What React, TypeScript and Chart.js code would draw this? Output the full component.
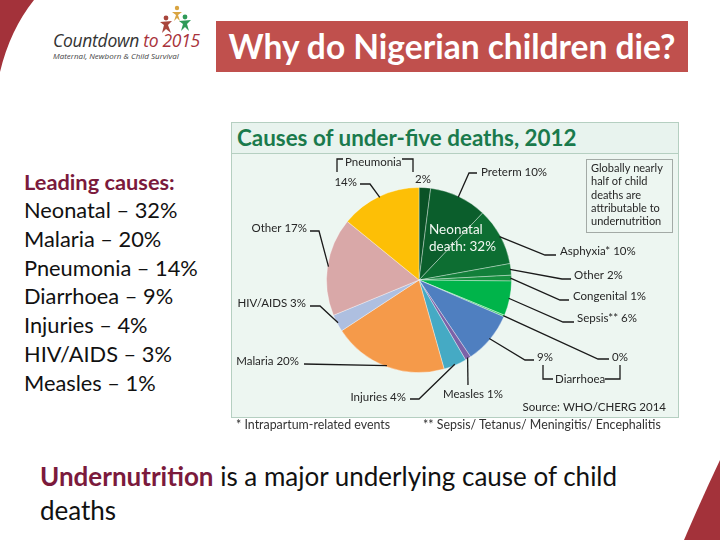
import React, { useEffect, useRef } from 'react';
import { Chart, registerables } from 'chart.js';

Chart.register(...registerables);

// ---- Data ----
const causes = [
  'Pneumonia (neonatal)', 'Preterm', 'Asphyxia', 'Other (neonatal)', 'Congenital', 'Sepsis',
  'Diarrhoea (neonatal)', 'Diarrhoea', 'Measles', 'Injuries', 'Malaria', 'HIV/AIDS', 'Other', 'Pneumonia',
];
const shares = [2, 10, 10, 2, 1, 6, 0.3, 9, 1, 4, 20, 3, 17, 14];
const sliceLabels = [
  '2%', 'Preterm 10%', 'Asphyxia* 10%', 'Other 2%', 'Congenital 1%', 'Sepsis** 6%', '0%', '9%',
  'Measles 1%', 'Injuries 4%', 'Malaria 20%', 'HIV/AIDS 3%', 'Other 17%', '14%',
];
const sliceColors = [
  '#0a5226', '#0b5e2c', '#0d6e32', '#12803a', '#16903f', '#00b44a', '#3ccf6a', '#4f7fc0',
  '#7c62a8', '#45aac4', '#f59a4a', '#aebfe0', '#d9a8a8', '#fdbf06',
];

const leadingCauses = ['Neonatal', 'Malaria', 'Pneumonia', 'Diarrhoea', 'Injuries', 'HIV/AIDS', 'Measles'];
const leadingShares = [32, 20, 14, 9, 4, 3, 1];

const noteLines = ['Globally nearly', 'half of child', 'deaths are', 'attributable to', 'undernutrition'];

// ---- Layout (slide px) ----
const PANEL_X = 231;
const PANEL_Y = 153;
type LabelPos = { x: number; y: number; align: CanvasTextAlign; pts: number[][] | null };
const labelLayout: LabelPos[] = [
  { x: 415, y: 179, align: 'left', pts: null },
  { x: 481, y: 172, align: 'left', pts: [[477, 173], [469, 173]] },
  { x: 560, y: 251, align: 'left', pts: [[556, 255], [545, 255]] },
  { x: 574, y: 275, align: 'left', pts: [[571, 279], [562, 279]] },
  { x: 573, y: 296, align: 'left', pts: [[569, 300], [560, 300]] },
  { x: 577, y: 318, align: 'left', pts: [[574, 322], [563, 322]] },
  { x: 612, y: 357, align: 'left', pts: [[609, 359], [598, 359]] },
  { x: 537, y: 357, align: 'left', pts: [[534, 360], [525, 360]] },
  { x: 443, y: 394, align: 'left', pts: [[468, 385]] },
  { x: 406, y: 397, align: 'right', pts: [[410, 399], [419, 399]] },
  { x: 299, y: 361, align: 'right', pts: [[304, 364]] },
  { x: 306, y: 303, align: 'right', pts: [[310, 306], [320, 306]] },
  { x: 307, y: 228, align: 'right', pts: [[310, 231], [319, 231]] },
  { x: 357, y: 182, align: 'right', pts: [[360, 184], [370, 184]] },
];

const leaderPlugin = {
  id: 'leaders',
  afterDatasetsDraw(chart: any) {
    const ctx: CanvasRenderingContext2D = chart.ctx;
    const meta = chart.getDatasetMeta(0);
    const cx = (v: number) => v - PANEL_X;
    const cy = (v: number) => v - PANEL_Y;
    ctx.save();
    ctx.font = '11.5px Lato';
    ctx.fillStyle = '#262626';
    ctx.strokeStyle = '#1a1a1a';
    ctx.lineWidth = 1.3;
    ctx.textBaseline = 'middle';
    meta.data.forEach((arc: any, i: number) => {
      const L = labelLayout[i];
      const p = arc.getProps(['x', 'y', 'startAngle', 'endAngle', 'outerRadius'], true);
      const mid = (p.startAngle + p.endAngle) / 2;
      const ex = p.x + Math.cos(mid) * (p.outerRadius - 1);
      const ey = p.y + Math.sin(mid) * (p.outerRadius - 1);
      if (L.pts) {
        ctx.beginPath();
        L.pts.forEach(([px, py], k) => (k ? ctx.lineTo(cx(px), cy(py)) : ctx.moveTo(cx(px), cy(py))));
        ctx.lineTo(ex, ey);
        ctx.stroke();
      }
      ctx.textAlign = L.align;
      ctx.fillText(sliceLabels[i], cx(L.x), cy(L.y));
    });
    // group brackets
    const poly = (pts: number[][]) => {
      ctx.beginPath();
      pts.forEach(([px, py], k) => (k ? ctx.lineTo(cx(px), cy(py)) : ctx.moveTo(cx(px), cy(py))));
      ctx.stroke();
    };
    ctx.textAlign = 'left';
    poly([[337, 172], [337, 159], [343, 159]]);
    ctx.fillText('Pneumonia', cx(345), cy(162));
    poly([[402, 159], [413, 159], [413, 172]]);
    poly([[543, 365], [543, 379], [553, 379]]);
    ctx.fillText('Diarrhoea', cx(555), cy(379));
    poly([[605, 379], [620, 379], [620, 365]]);

    // inner label
    ctx.fillStyle = '#f2f7f2';
    ctx.font = '13.5px Lato';
    ctx.fillText('Neonatal', cx(429), cy(230));
    ctx.fillText('death: 32%', cx(429), cy(247));

    // note box
    ctx.strokeStyle = '#a3aaa6';
    ctx.lineWidth = 1;
    ctx.strokeRect(cx(586) + 0.5, cy(159) + 0.5, 86, 73);
    ctx.fillStyle = '#262626';
    ctx.font = '11px Lato';
    noteLines.forEach((t, k) => ctx.fillText(t, cx(591), cy(168.3 + k * 13.35)));

    // source
    ctx.font = '11.5px Lato';
    ctx.textAlign = 'right';
    ctx.fillText('Source: WHO/CHERG 2014', cx(666), cy(407));
    ctx.restore();
  },
};

function PieChart() {
  const ref = useRef<HTMLCanvasElement | null>(null);
  useEffect(() => {
    if (!ref.current) return;
    const chart = new Chart(ref.current, {
      type: 'pie',
      data: {
        labels: causes,
        datasets: [
          {
            data: shares,
            backgroundColor: sliceColors,
            borderColor: 'rgba(255,255,255,0.35)',
            borderWidth: 1,
          },
        ],
      },
      options: {
        responsive: false,
        animation: false,
        layout: { padding: { left: 95, top: 34, right: 167, bottom: 45 } },
        plugins: { legend: { display: false }, tooltip: { enabled: false }, title: { display: false } },
      },
      plugins: [leaderPlugin],
    });
    return () => chart.destroy();
  }, []);
  return (
    <canvas
      ref={ref}
      width={448}
      height={265}
      style={{ position: 'absolute', left: PANEL_X, top: PANEL_Y, width: 448, height: 265 }}
    />
  );
}

export default function App() {
  const maroon = '#7b1a3c';
  return (
    <div
      style={{
        position: 'absolute',
        left: 0,
        top: 0,
        width: 720,
        height: 540,
        background: '#ffffff',
        overflow: 'hidden',
        fontFamily: 'Lato, sans-serif',
      }}
    >
      <svg width={720} height={540} style={{ position: 'absolute', left: 0, top: 0 }}>
        <path d="M0,0 L34,0 Q10,30 0,72 Z" fill="#a3323a" />
        <path d="M720,460 Q702,498 684,540 L720,540 Z" fill="#a3323a" />
        {/* logo figures */}
        <circle cx={177} cy={8} r={2.2} fill="#d9a441" />
        <path d="M172,12 L182,12 L178,15 L180,21 L177,18 L174,21 L176,15 Z" fill="#d9a441" />
        <circle cx={166} cy={18} r={2.4} fill="#a8453c" />
        <path d="M160,22 L172,21 L168,25 L171,33 L166,29 L162,33 L164,25 Z" fill="#a8453c" />
        <circle cx={185} cy={17} r={2.4} fill="#2f9a57" />
        <path d="M179,21 L191,20 L187,24 L189,31 L185,27 L181,31 L183,24 Z" fill="#2f9a57" />
      </svg>
      <div
        style={{
          position: 'absolute',
          left: 53,
          top: 30,
          fontFamily: '"Open Sans", sans-serif',
          fontStyle: 'italic',
          fontSize: 17.5,
          lineHeight: '20px',
          color: '#333',
          whiteSpace: 'nowrap',
          letterSpacing: -0.3,
        }}
      >
        Countdown <span style={{ color: '#a8323a' }}>to 2015</span>
      </div>
      <div
        style={{
          position: 'absolute',
          left: 53,
          top: 51,
          fontFamily: '"Open Sans", sans-serif',
          fontStyle: 'italic',
          fontSize: 8,
          lineHeight: '10px',
          color: '#444',
          whiteSpace: 'nowrap',
        }}
      >
        Maternal, Newborn &amp; Child Survival
      </div>

      <div
        style={{
          position: 'absolute',
          left: 216,
          top: 21,
          width: 472,
          height: 51,
          background: '#c0504d',
          color: '#fff',
          fontSize: 33.5,
          fontWeight: 700,
          lineHeight: '51px',
          textAlign: 'center',
          whiteSpace: 'nowrap',
        }}
      >
        Why do Nigerian children die?
      </div>

      <div style={{ position: 'absolute', left: 24, top: 167.6, fontSize: 21.8, lineHeight: '28.7px', color: '#111' }}>
        <div style={{ color: maroon, fontWeight: 700 }}>Leading causes:</div>
        {leadingCauses.map((c, i) => (
          <div key={c} style={{ whiteSpace: 'nowrap' }}>
            {c} – {leadingShares[i]}%
          </div>
        ))}
      </div>

      <div
        style={{
          position: 'absolute',
          left: 231,
          top: 122,
          width: 448,
          height: 296,
          boxSizing: 'border-box',
          background: '#edf6f1',
          border: '1px solid #b5cfc1',
        }}
      >
        <div
          style={{
            height: 30,
            borderBottom: '1px solid #b5cfc1',
            background: '#e8f3ee',
            color: '#1a7a4c',
            fontWeight: 700,
            fontSize: 22.4,
            lineHeight: '30px',
            paddingLeft: 5,
            whiteSpace: 'nowrap',
          }}
        >
          Causes of under-five deaths, 2012
        </div>
      </div>
      <PieChart />

      <div style={{ position: 'absolute', left: 236, top: 418, fontSize: 12.4, lineHeight: '14px', color: '#333', whiteSpace: 'nowrap' }}>
        * Intrapartum-related events
      </div>
      <div style={{ position: 'absolute', left: 423, top: 418, fontSize: 12.4, lineHeight: '14px', color: '#333', whiteSpace: 'nowrap' }}>
        ** Sepsis/ Tetanus/ Meningitis/ Encephalitis
      </div>

      <div style={{ position: 'absolute', left: 40, top: 459, fontSize: 26, lineHeight: '34px', color: '#111', whiteSpace: 'nowrap' }}>
        <span style={{ color: maroon, fontWeight: 700 }}>Undernutrition</span> is a major underlying cause of child
        <br />
        deaths
      </div>
    </div>
  );
}
